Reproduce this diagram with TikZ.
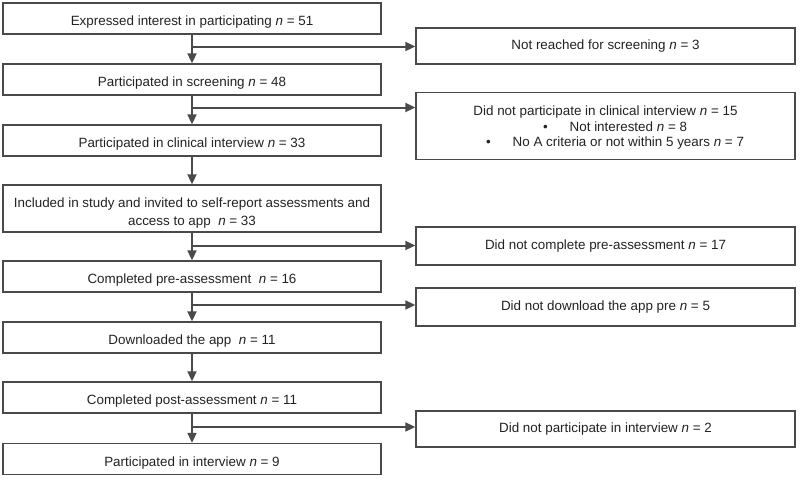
\documentclass[tikz,border=0pt]{standalone}
\usepackage{fontspec}
\setmainfont{Liberation Sans}
\usetikzlibrary{arrows.meta}
\definecolor{linegray}{HTML}{4A4A4A}
\definecolor{txt}{HTML}{222222}
\tikzset{
  box/.style={draw=linegray, line width=1.4pt, rectangle, inner sep=0pt, align=center, text=txt, font=\fontsize{13.4}{15.5}\selectfont},
  lbox/.style={box, minimum width=378pt, text height=14pt, text depth=0pt},
  rbox/.style={box, minimum width=379pt},
  flow/.style={draw=linegray, line width=2pt, -{Triangle[length=10pt,width=9pt]}}
}
\begin{document}
\begin{tikzpicture}[x=1pt,y=-1pt]
\useasboundingbox (0,0) rectangle (800,479);
% left column
\node[lbox, minimum height=31pt] (b1) at (192,18.5) {Expressed interest in participating \textit{n} = 51};
\node[lbox, minimum height=31pt] (b2) at (192,79.5) {Participated in screening \textit{n} = 48};
\node[lbox, minimum height=31pt] (b3) at (192,140.5) {Participated in clinical interview \textit{n} = 33};
\node[box, minimum width=378pt, minimum height=47pt, text height=36pt, text depth=2pt, font=\fontsize{13.4}{18}\selectfont] (b4) at (192,208.5) {Included in study and invited to self-report assessments and\\access to app\ \ \textit{n} = 33};
\node[lbox, minimum height=31pt] (b5) at (192,276.5) {Completed pre-assessment\ \ \textit{n} = 16};
\node[lbox, minimum height=31pt] (b6) at (192,337.5) {Downloaded the app\ \ \textit{n} = 11};
\node[lbox, minimum height=31pt] (b7) at (192,397.5) {Completed post-assessment \textit{n} = 11};
\node[lbox, minimum height=31pt] (b8) at (192,459) {Participated in interview \textit{n} = 9};
% right column
\node[rbox, minimum height=36pt] (r1) at (605.5,46) {Not reached for screening \textit{n} = 3};
\node[rbox, minimum height=67pt, text height=44pt, text depth=3pt] (r2) at (605.5,126) {Did not participate in clinical interview \textit{n} = 15\\
\hspace*{19pt}\textbullet\hspace{22pt}Not interested \textit{n} = 8\\
\hspace*{19pt}\textbullet\hspace{22pt}No A criteria or not within 5 years \textit{n} = 7};
\node[rbox, minimum height=38pt] (r3) at (605.5,246) {Did not complete pre-assessment \textit{n} = 17};
\node[rbox, minimum height=38pt] (r4) at (605.5,307) {Did not download the app pre \textit{n} = 5};
\node[rbox, minimum height=36pt] (r5) at (605.5,429) {Did not participate in interview \textit{n} = 2};
% branch points
\coordinate (c1) at (192,46.5);
\coordinate (c2) at (192,107.5);
\coordinate (c3) at (192,245.5);
\coordinate (c4) at (192,305);
\coordinate (c5) at (192,427);
% vertical arrows
\draw[flow] (b1.south) -- (b2.north);
\draw[flow] (b2.south) -- (b3.north);
\draw[flow] (b3.south) -- (b4.north);
\draw[flow] (b4.south) -- (b5.north);
\draw[flow] (b5.south) -- (b6.north);
\draw[flow] (b6.south) -- (b7.north);
\draw[flow] (b7.south) -- (b8.north);
% branches
\draw[flow] (c1) -- (c1 -| r1.west);
\draw[flow] (c2) -- (c2 -| r2.west);
\draw[flow] (c3) -- (c3 -| r3.west);
\draw[flow] (c4) -- (c4 -| r4.west);
\draw[flow] (c5) -- (c5 -| r5.west);
\end{tikzpicture}
\end{document}
